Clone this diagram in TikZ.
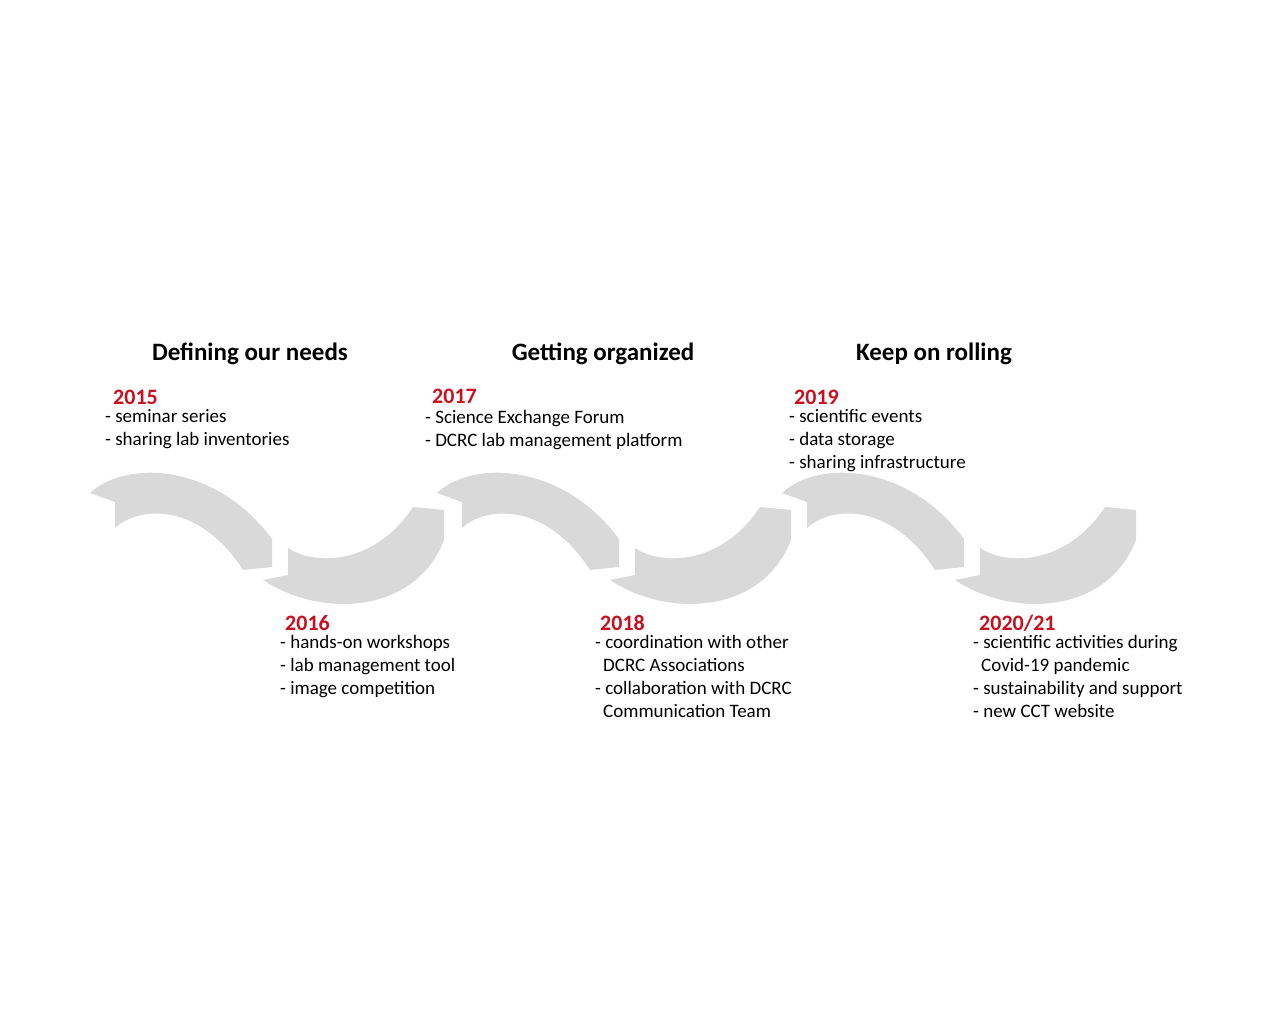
\documentclass[tikz,border=0pt]{standalone}
\usepackage{fontspec}
\setmainfont{Carlito}
\usepackage{tikz}
\usetikzlibrary{positioning,calc}
\definecolor{YearRed}{RGB}{200,16,30}
\definecolor{WaveGray}{RGB}{217,217,217}
\tikzset{
  wave/.style={fill=WaveGray,draw=none},
  phase/.style={font=\fontsize{25}{30}\selectfont\bfseries,anchor=base,inner sep=0pt},
  year/.style={font=\fontsize{22}{26}\selectfont\bfseries,text=YearRed,anchor=base west,inner sep=0pt},
  items/.style={font=\fontsize{19}{23}\selectfont,align=left,anchor=north west,inner sep=0pt},
}

\begin{document}
\begin{tikzpicture}[x=1pt,y=-1pt]
\useasboundingbox (0,0) rectangle (1280,1024);
% wave: arch + cup, three times
\foreach \s in {0,347,692}{
  \fill[wave,shift={(\s,0)}] (90,493) -- (115,502) -- (115,528)
    .. controls (140,505) and (200,503) .. (243,570) -- (272,567) -- (272,539)
    .. controls (215,462) and (125,460) .. (90,493) -- cycle;
  \fill[wave,shift={(\s,0)}] (263,580) -- (288,575) -- (288,548)
    .. controls (315,566) and (375,565) .. (413,507) -- (444,510) -- (444,540)
    .. controls (415,615) and (320,618) .. (263,580) -- cycle;
}
% phases
\node[phase] (needs) at (250,360) {Defining our needs};
\node[phase] (organized) at (603,360) {Getting organized};
\node[phase] (rolling) at (934,360) {Keep on rolling};
% years
\node[year] (y2015) at (113,404) {2015};
\node[year] (y2016) at (285,630) {2016};
\node[year] (y2017) at (432,403) {2017};
\node[year] (y2018) at (600,630) {2018};
\node[year] (y2019) at (794,404) {2019};
\node[year] (y2020) at (979,630) {2020/21};
% activities
\node[items] (l2015) at (105,409) {- seminar series\\- sharing lab inventories};
\node[items] (l2016) at (280,635) {- hands-on workshops\\- lab management tool\\- image competition};
\node[items] (l2017) at (425,410) {- Science Exchange Forum\\- DCRC lab management platform};
\node[items] (l2018) at (595,635) {- coordination with other\\\hspace*{8pt}DCRC Associations\\- collaboration with DCRC\\\hspace*{8pt}Communication Team};
\node[items] (l2019) at (789,409) {- scientific events\\- data storage\\- sharing infrastructure};
\node[items] (l2020) at (973,635) {- scientific activities during\\\hspace*{8pt}Covid-19 pandemic\\- sustainability and support\\- new CCT website};
\end{tikzpicture}
\end{document}
